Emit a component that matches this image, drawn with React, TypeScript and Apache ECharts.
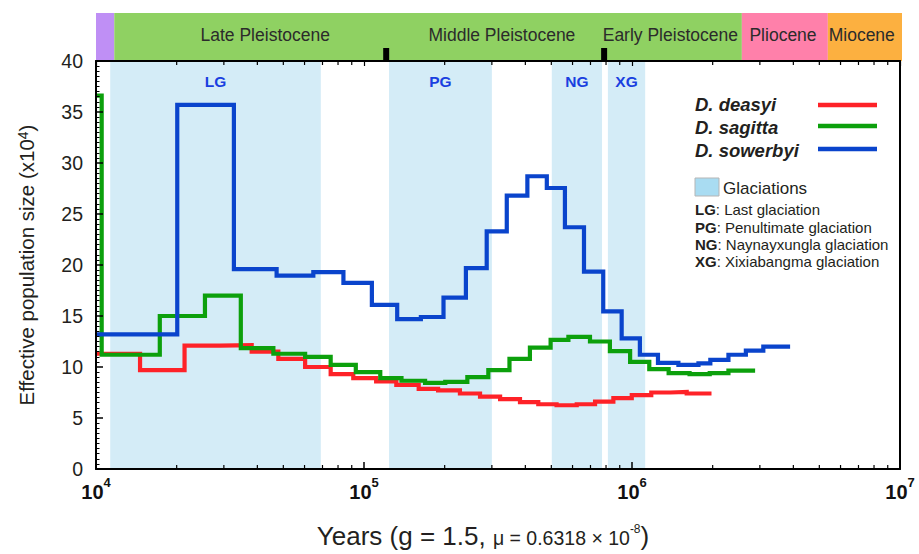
import React, { useEffect, useRef } from 'react';
import * as echarts from 'echarts';

// ---------- data ----------
const redYears = [10000, 14600, 21400, 29000, 38100, 47900, 60300, 75100, 91200, 111000, 132000, 160000, 189000, 228000, 271000, 322000, 382000, 447000, 523000, 622000, 728000, 852000, 998000, 1180000, 1390000, 1600000, 1980000];
const redNe = [11.3, 9.7, 12.1, 12.15, 11.5, 10.8, 10.0, 9.3, 8.9, 8.6, 8.25, 7.85, 7.7, 7.4, 7.1, 6.85, 6.55, 6.35, 6.25, 6.35, 6.6, 6.95, 7.25, 7.5, 7.55, 7.4, 7.4];

const greenYears = [10000, 10500, 17300, 25500, 34700, 45900, 60300, 75100, 93200, 115000, 138000, 169000, 201000, 243000, 291000, 349000, 416000, 497000, 579000, 697000, 827000, 984000, 1160000, 1370000, 1640000, 1950000, 2290000, 2880000];
const greenNe = [36.6, 11.2, 15.0, 17.0, 11.85, 11.3, 11.0, 10.2, 9.5, 8.9, 8.65, 8.45, 8.55, 9.0, 9.7, 10.8, 11.9, 12.65, 12.95, 12.5, 11.55, 10.5, 9.8, 9.4, 9.3, 9.4, 9.65, 9.65];

const blueYears = [10000, 20100, 32700, 47200, 64700, 83800, 107000, 133000, 163000, 198000, 240000, 287000, 341000, 407000, 481000, 562000, 662000, 781000, 915000, 1070000, 1250000, 1490000, 1770000, 1960000, 2290000, 2660000, 3090000, 3890000];
const blueNe = [13.2, 35.7, 19.6, 18.95, 19.3, 18.25, 16.1, 14.7, 14.9, 16.8, 19.7, 23.3, 26.8, 28.7, 27.55, 23.7, 19.35, 15.45, 12.8, 11.2, 10.4, 10.2, 10.35, 10.7, 11.2, 11.6, 12.0, 12.0];

const speciesNames = ['D. deasyi', 'D. sagitta', 'D. sowerbyi'];

const glacNames = ['LG', 'PG', 'NG', 'XG'];
const glacStart = [11300, 124000, 502000, 813000];
const glacEnd = [69000, 300000, 773000, 1120000];
const glacDescriptions = ['Last glaciation', 'Penultimate glaciation', 'Naynayxungla glaciation', 'Xixiabangma glaciation'];

const epochStart = [10000, 11700, 2570000, 5380000];
const epochEnd = [11700, 2570000, 5380000, 10000000];
const epochLabels = ['Late Pleistocene', 'Middle Pleistocene', 'Early Pleistocene', 'Pliocene', 'Miocene'];
const epochLabelYears = [42800, 327000, 1390000, 3660000, 7200000];
const stageBoundaries = [121000, 787000];

const yTickMin = 0;
const yTickMax = 40;
const yTickStep = 5;
const xMin = 1e4;
const xMax = 1e7;

// ---------- styles ----------
const FONT = '"Liberation Sans", Arial, Helvetica, sans-serif';
const RED = '#fe2228';
const GREEN = '#0ca00c';
const BLUE = '#0a44cc';
const seriesColors = [RED, GREEN, BLUE];
const epochColors = ['#bf8ff5', '#8fd162', '#ff80aa', '#fcb040'];
const GLAC_FILL = '#d4ecf7';
const GLAC_LABEL = '#1a3fe0';
const TEXT = '#231f20';

const minorTickYears: number[] = [];
for (let e = 4; e < 7; e++) {
  for (let k = 2; k <= 9; k++) minorTickYears.push(k * Math.pow(10, e));
}

function stepData(xs: number[], ys: number[]) {
  return xs.map((x, i) => [x, ys[i]]);
}

export default function App() {
  const ref = useRef<HTMLDivElement>(null);
  useEffect(() => {
    const chart = echarts.init(ref.current!, null, { renderer: 'svg' });
    const lineSeries = [
      { xs: redYears, ys: redNe },
      { xs: greenYears, ys: greenNe },
      { xs: blueYears, ys: blueNe },
    ].map((s, i) => ({
      type: 'line',
      name: speciesNames[i],
      xAxisIndex: 0,
      yAxisIndex: 0,
      step: 'end',
      symbol: 'none',
      z: 3 + i,
      data: stepData(s.xs, s.ys),
      lineStyle: { color: seriesColors[i], width: 4.2, join: 'miter', cap: 'butt' },
    }));

    const legendGraphics: any[] = [];
    const legendY = [104, 127, 150];
    const legendLineY = [105, 126, 149];
    speciesNames.forEach((n, i) => {
      legendGraphics.push({
        type: 'text',
        x: 695,
        y: legendY[i],
        style: {
          text: n,
          font: `italic bold 18.5px ${FONT}`,
          fill: TEXT,
          textVerticalAlign: 'middle',
        },
      });
      legendGraphics.push({
        type: 'line',
        shape: { x1: 818, y1: legendLineY[i], x2: 877, y2: legendLineY[i] },
        style: { stroke: seriesColors[i], lineWidth: 4.5 },
      });
    });
    legendGraphics.push({
      type: 'rect',
      shape: { x: 695, y: 178, width: 24, height: 18 },
      style: { fill: '#a9dcf2', stroke: '#b5b5b5', lineWidth: 1 },
    });
    legendGraphics.push({
      type: 'text',
      x: 723,
      y: 188,
      style: { text: 'Glaciations', font: `17px ${FONT}`, fill: TEXT, textVerticalAlign: 'middle' },
    });
    const descY = [209, 227, 244, 261];
    glacNames.forEach((g, i) => {
      legendGraphics.push({
        type: 'text',
        x: 695,
        y: descY[i],
        style: {
          text: `{b|${g}}: ${glacDescriptions[i]}`,
          font: `15px ${FONT}`,
          fill: TEXT,
          textVerticalAlign: 'middle',
          rich: { b: { fontWeight: 'bold', fontSize: 15, fontFamily: FONT, fill: TEXT } },
        },
      });
    });

    const option: any = {
      animation: false,
      textStyle: { fontFamily: FONT },
      grid: [
        { left: 96, top: 61, width: 804, height: 410, show: false },
        { left: 96, top: 13, width: 804, height: 48, show: false },
      ],
      xAxis: [
        {
          type: 'log',
          logBase: 10,
          min: xMin,
          max: xMax,
          gridIndex: 0,
          position: 'bottom',
          z: 10,
          axisLine: { show: true, onZero: false, lineStyle: { color: '#000', width: 2 } },
          axisTick: { show: true, inside: true, length: 7, lineStyle: { color: '#000', width: 1.5 } },
          splitLine: { show: false },
          axisLabel: {
            margin: 7,
            formatter: (v: number) => `{b|10}{s|${Math.round(Math.log10(v))}}`,
            rich: {
              b: { fontSize: 20, fontWeight: 'bold', color: '#111', padding: [6, 0, 0, 0], fontFamily: FONT },
              s: { fontSize: 13, fontWeight: 'bold', color: '#111', verticalAlign: 'top', fontFamily: FONT },
            },
          },
          name: '{a|Years (g = 1.5, }{m|μ = 0.6318 × 10}{s|-8}{a|)}',
          nameLocation: 'middle',
          nameGap: 54,
          nameTextStyle: {
            padding: [0, 30, 0, 0],
            rich: {
              a: { fontSize: 26, color: TEXT, fontFamily: FONT, verticalAlign: 'bottom' },
              m: { fontSize: 19.5, color: TEXT, fontFamily: FONT, verticalAlign: 'bottom', padding: [0, 0, 1, 0] },
              s: { fontSize: 12, color: TEXT, fontFamily: FONT, verticalAlign: 'top' },
            },
          },
        },
        {
          type: 'log',
          logBase: 10,
          min: xMin,
          max: xMax,
          gridIndex: 0,
          position: 'top',
          z: 10,
          axisLine: { show: true, onZero: false, lineStyle: { color: '#000', width: 2 } },
          axisTick: { show: true, inside: true, length: 5, lineStyle: { color: '#000', width: 1.2 } },
          axisLabel: { show: false },
          splitLine: { show: false },
        },
        { type: 'log', logBase: 10, min: xMin, max: xMax, gridIndex: 1, show: false },
      ],
      yAxis: [
        {
          type: 'value',
          min: yTickMin,
          max: yTickMax,
          interval: yTickStep,
          gridIndex: 0,
          position: 'left',
          z: 10,
          axisLine: { show: true, onZero: false, lineStyle: { color: '#000', width: 2 } },
          axisTick: { show: true, inside: true, length: 7, lineStyle: { color: '#000', width: 1.5 } },
          minorTick: { show: true, splitNumber: 10, length: 3.5, lineStyle: { color: '#000', width: 1 } },
          splitLine: { show: false },
          minorSplitLine: { show: false },
          axisLabel: { fontSize: 19.5, color: TEXT, margin: 13, fontFamily: FONT },
          name: '{a|Effective population size (x10}{s|4}{a|)}',
          nameLocation: 'middle',
          nameGap: 59,
          nameRotate: 90,
          nameTextStyle: {
            rich: {
              a: { fontSize: 20.5, color: TEXT, fontFamily: FONT, verticalAlign: 'bottom' },
              s: { fontSize: 14, color: TEXT, fontFamily: FONT, verticalAlign: 'top' },
            },
          },
        },
        {
          type: 'value',
          min: yTickMin,
          max: yTickMax,
          gridIndex: 0,
          position: 'right',
          z: 10,
          axisLine: { show: true, onZero: false, lineStyle: { color: '#000', width: 2 } },
          axisTick: { show: false },
          axisLabel: { show: false },
          splitLine: { show: false },
        },
        { type: 'value', min: 0, max: 1, gridIndex: 1, show: false },
      ],
      series: [
        {
          type: 'line',
          name: 'glaciations',
          xAxisIndex: 0,
          yAxisIndex: 0,
          data: [],
          z: 1,
          silent: true,
          markArea: {
            silent: true,
            itemStyle: { color: GLAC_FILL },
            label: {
              show: true,
              position: 'insideTop',
              distance: 12,
              color: GLAC_LABEL,
              fontWeight: 'bold',
              fontSize: 15.5,
              fontFamily: FONT,
            },
            data: glacNames.map((n, i) => [
              { name: n, xAxis: glacStart[i] },
              { xAxis: glacEnd[i] },
            ]),
          },
        },
        ...lineSeries,
        {
          type: 'custom',
          name: 'minorTicks',
          xAxisIndex: 0,
          yAxisIndex: 0,
          z: 11,
          silent: true,
          data: minorTickYears.map((v) => [v, 0]),
          encode: { x: 0, y: 1 },
          renderItem: (params: any, api: any) => {
            const v = api.value(0);
            const b = api.coord([v, yTickMin]);
            const t = api.coord([v, yTickMax]);
            return {
              type: 'group',
              children: [
                { type: 'line', shape: { x1: b[0], y1: b[1], x2: b[0], y2: b[1] - 4 }, style: { stroke: '#000', lineWidth: 1.2 } },
                { type: 'line', shape: { x1: t[0], y1: t[1], x2: t[0], y2: t[1] + 4 }, style: { stroke: '#000', lineWidth: 1.2 } },
              ],
            };
          },
        },
        {
          type: 'custom',
          name: 'epochs',
          xAxisIndex: 2,
          yAxisIndex: 2,
          silent: true,
          data: epochStart.map((s, i) => [s, epochEnd[i], 0]),
          encode: { x: [0, 1], y: 2 },
          renderItem: (params: any, api: any) => {
            const a = api.coord([api.value(0), 1]);
            const b = api.coord([api.value(1), 0]);
            const extra = params.dataIndex === epochStart.length - 1 ? 2 : 0;
            return {
              type: 'rect',
              shape: { x: a[0], y: a[1], width: b[0] - a[0] + extra, height: b[1] - a[1] },
              style: { fill: epochColors[params.dataIndex] },
            };
          },
        },
        {
          type: 'custom',
          name: 'boundaries',
          xAxisIndex: 2,
          yAxisIndex: 2,
          silent: true,
          z: 5,
          data: stageBoundaries.map((v) => [v, 0]),
          encode: { x: 0, y: 1 },
          renderItem: (params: any, api: any) => {
            const p = api.coord([api.value(0), 0]);
            return {
              type: 'rect',
              shape: { x: p[0] - 3, y: p[1] - 13, width: 6, height: 13 },
              style: { fill: '#000' },
            };
          },
        },
        {
          type: 'custom',
          name: 'epochLabels',
          xAxisIndex: 2,
          yAxisIndex: 2,
          silent: true,
          z: 6,
          data: epochLabelYears.map((v) => [v, 0.55]),
          encode: { x: 0, y: 1 },
          renderItem: (params: any, api: any) => {
            const p = api.coord([api.value(0), api.value(1)]);
            return {
              type: 'text',
              x: p[0],
              y: p[1],
              style: {
                text: epochLabels[params.dataIndex],
                font: `17.5px ${FONT}`,
                fill: '#2b2b2b',
                textAlign: 'center',
                textVerticalAlign: 'middle',
              },
            };
          },
        },
      ],
      graphic: legendGraphics,
    };
    chart.setOption(option);
    return () => chart.dispose();
  }, []);
  return <div ref={ref} style={{ position: 'absolute', left: 0, top: 0, width: 919, height: 554 }} />;
}
